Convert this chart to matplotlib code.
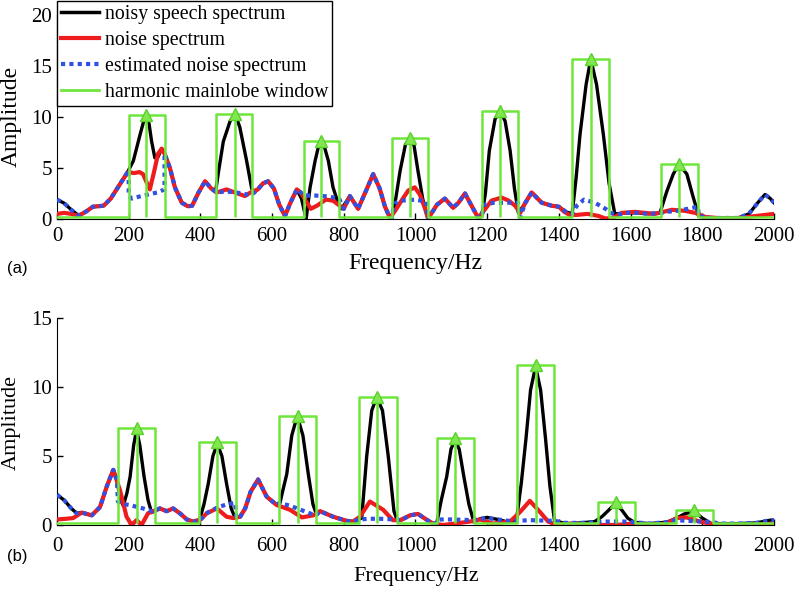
import matplotlib.pyplot as plt
from matplotlib.lines import Line2D

plt.rcParams['font.family'] = ['Liberation Serif', 'DejaVu Serif']

# ---- panel (a) ----
a_black_f = [0, 20, 40, 60, 80, 100, 130, 150, 170, 190, 200, 213, 232, 245, 250, 257, 264, 273, 282, 292,
             300, 315, 329, 348, 365, 377, 395, 413, 430, 443, 450, 464, 483, 497, 510, 529, 543, 550,
             560, 575, 589, 605, 620, 636, 650, 669, 682, 695, 706, 720, 730, 737, 745, 757, 770, 784, 794,
             817, 840, 860, 882, 900, 915, 929, 934, 945, 957, 972, 985, 996, 1007, 1020, 1035,
             1060, 1082, 1105, 1120, 1138, 1158, 1175, 1185, 1195, 1206, 1222, 1236, 1250, 1264, 1276, 1287,
             1305, 1324, 1352, 1380, 1400, 1420, 1437, 1448, 1459, 1476, 1489, 1505, 1524, 1540, 1556,
             1590, 1620, 1650, 1682, 1701, 1719, 1735, 1757, 1775, 1790, 1820, 1860, 1900, 1930, 1955,
             1975, 1990, 2000]
a_black_a = [1.9, 1.55, 0.9, 0.35, 0.7, 1.2, 1.3, 2.0, 3.1, 4.2, 4.8, 5.7, 8.3, 10.0, 10.2, 9.3, 7.6, 6.0, 6.1, 6.9,
             6.4, 5.0, 3.1, 1.6, 1.25, 1.3, 2.6, 3.7, 3.0, 2.8, 4.5, 7.6, 9.6, 10.3, 9.0, 5.7, 3.0, 2.6,
             2.9, 3.5, 3.7, 3.0, 1.4, 0.3, 1.5, 2.9, 2.0, 0.0, 3.1, 5.7, 7.2, 7.6, 7.2, 5.7, 3.1, 1.6, 1.0,
             2.25, 1.0, 2.6, 4.4, 3.0, 1.2, 0.1, 0.1, 2.0, 4.7, 7.3, 7.9, 7.2, 4.7, 2.0, 0.0,
             1.4, 2.0, 1.1, 1.6, 2.5, 1.2, 0.1, 0.3, 2.5, 6.7, 9.8, 10.6, 9.6, 6.7, 3.0, 0.6,
             1.5, 2.6, 1.6, 1.3, 1.2, 0.7, 0.5, 4.0, 8.3, 13.2, 15.7, 13.2, 8.3, 3.5, 0.5,
             0.6, 0.6, 0.5, 0.6, 2.7, 4.4, 5.4, 4.4, 2.1, 0.3, 0.1, 0.1, 0.1, 0.5, 1.6,
             2.4, 2.0, 1.6]

a_red_f = [0, 20, 40, 60, 80, 100, 130, 150, 170, 190, 200, 215, 230, 240, 250, 259, 270, 282, 292,
           300, 315, 329, 348, 365, 377, 395, 413, 430, 445, 473, 496, 524, 540, 560, 575, 589, 605, 620,
           636, 650, 669, 680, 692, 708, 725, 750, 770, 785, 800, 817, 840, 860, 882, 900, 915, 929,
           945, 961, 980, 998, 1012, 1026, 1035, 1060, 1082, 1105, 1120, 1138, 1158, 1175, 1195, 1212,
           1240, 1260, 1278, 1292, 1305, 1324, 1352, 1380, 1400, 1415, 1430, 1450, 1480, 1510, 1530,
           1550, 1576, 1612, 1668, 1715, 1752, 1780, 1808, 1872, 1927, 2000]
a_red_a = [0.5, 0.6, 0.5, 0.3, 0.7, 1.2, 1.3, 2.0, 3.1, 4.2, 4.6, 4.5, 4.6, 4.4, 3.6, 2.9, 4.5, 6.4, 6.9,
           6.4, 5.0, 3.1, 1.6, 1.25, 1.3, 2.6, 3.7, 3.0, 2.6, 2.9, 2.6, 2.25, 2.6, 2.9, 3.5, 3.7, 3.0, 1.4,
           0.3, 1.5, 2.9, 2.6, 1.9, 1.0, 1.3, 1.9, 1.8, 1.4, 1.0, 2.25, 1.0, 2.6, 4.4, 3.0, 1.2, 0.1,
           0.9, 1.8, 2.8, 3.1, 2.4, 1.1, 0.05, 1.4, 2.0, 1.1, 1.6, 2.5, 1.2, 0.1, 1.0, 1.8,
           2.1, 1.8, 1.3, 0.6, 1.5, 2.6, 1.6, 1.3, 1.2, 0.7, 0.4, 0.4, 0.5, 0.3, 0.05,
           0.1, 0.6, 0.7, 0.5, 0.9, 0.8, 0.6, 0.2, 0.0, 0.2, 0.5]

a_est_f = [0, 20, 40, 60, 80, 100, 130, 150, 170, 190, 200, 200, 208, 230, 254, 280, 300, 300, 315, 329,
           348, 365, 377, 395, 413, 430, 445, 470, 500, 530, 544, 560, 575, 589, 605, 620, 636, 650,
           669, 683, 689, 720, 760, 787, 800, 817, 840, 860, 882, 900, 915, 929, 934, 940, 960, 1000,
           1030, 1035, 1060, 1082, 1105, 1120, 1138, 1158, 1175, 1185, 1192, 1220, 1260, 1286, 1292,
           1305, 1324, 1352, 1380, 1400, 1420, 1437, 1450, 1470, 1500, 1530, 1545, 1560, 1590, 1620,
           1650, 1685, 1700, 1730, 1760, 1788, 1790, 1820, 1860, 1900, 1930, 1955, 1975, 1990, 2000]
a_est_a = [1.9, 1.55, 0.9, 0.35, 0.7, 1.2, 1.3, 2.0, 3.1, 4.2, 4.8, 2.3, 2.0, 2.2, 2.4, 2.6, 2.9, 6.4, 5.0, 3.1,
           1.6, 1.25, 1.3, 2.6, 3.7, 3.0, 2.6, 2.7, 2.6, 2.4, 2.4, 2.9, 3.5, 3.7, 3.0, 1.4, 0.3, 1.5,
           2.9, 2.5, 2.3, 2.3, 2.2, 2.0, 1.0, 2.25, 1.0, 2.6, 4.4, 3.0, 1.2, 0.1, 0.1, 1.5, 1.8, 1.9,
           1.7, 0.0, 1.4, 2.0, 1.1, 1.6, 2.5, 1.2, 0.1, 0.3, 1.4, 1.6, 1.6, 1.6, 0.1,
           1.5, 2.6, 1.6, 1.3, 1.2, 0.7, 0.5, 1.3, 1.9, 1.6, 1.0, 0.6, 0.4, 0.6, 0.6,
           0.5, 0.6, 0.7, 0.8, 1.0, 1.2, 0.3, 0.1, 0.1, 0.1, 0.5, 1.6, 2.4, 2.0, 1.6]

a_win_left = [200, 443, 689, 934, 1185, 1437, 1685]
a_win_right = [300, 544, 787, 1035, 1286, 1540, 1788]
a_win_center = [248, 497, 737, 985, 1236, 1489, 1735]
a_win_height = [10.2, 10.3, 7.6, 7.9, 10.6, 15.7, 5.4]

# ---- panel (b) ----
b_black_f = [0, 20, 40, 55, 69, 97, 120, 139, 157, 167, 176, 185, 195, 204, 214, 222, 231, 243, 254, 264, 278,
             287, 306, 324, 345, 362, 380, 397, 410, 422, 435, 447, 460, 473, 486, 497, 511, 525, 540, 561,
             585, 613, 622, 630, 641, 655, 670, 686, 701, 714, 722, 734, 770, 808, 826, 850, 864, 878,
             892, 908, 924, 940, 948, 960, 985, 1007, 1030, 1049, 1059, 1072, 1087, 1099, 1110, 1122,
             1135, 1149, 1163, 1180, 1200, 1230, 1260, 1282, 1295, 1308, 1321, 1335, 1349, 1363, 1375,
             1388, 1420, 1460, 1500, 1520, 1540, 1557, 1575, 1592, 1610, 1650, 1700, 1725, 1750, 1777,
             1800, 1825, 1850, 1900, 1950, 1990, 2000]
b_black_a = [2.2, 1.8, 1.2, 0.85, 0.9, 0.7, 1.3, 2.8, 4.0, 3.3, 1.9, 1.4, 2.3, 3.5, 5.8, 6.9, 5.8, 3.5, 1.8, 0.9, 1.1,
             1.2, 1.0, 1.2, 0.8, 0.4, 0.25, 0.3, 1.5, 3.0, 5.0, 5.9, 5.0, 3.0, 1.2, 0.5, 0.6, 1.2, 2.4, 3.3,
             2.05, 1.45, 1.6, 2.5, 3.7, 6.5, 7.9, 6.5, 3.7, 1.5, 0.9, 1.0, 0.6, 0.3, 0.25, 0.5, 5.0, 8.3,
             9.3, 8.3, 5.0, 1.0, 0.4, 0.35, 0.7, 0.8, 0.4, 0.1, 0.1, 1.8, 3.5, 5.5, 6.2, 5.5,
             3.5, 1.5, 0.2, 0.45, 0.55, 0.4, 0.2, 0.4, 3.0, 6.2, 9.8, 11.5, 9.8, 6.2, 2.8,
             0.3, 0.1, 0.15, 0.25, 0.6, 1.1, 1.55, 1.1, 0.5, 0.2, 0.1, 0.2, 0.45, 0.8, 1.0,
             0.5, 0.1, 0.1, 0.1, 0.15, 0.35, 0.35]

b_red_f = [0, 25, 45, 69, 97, 120, 139, 157, 176, 194, 208, 222, 236, 254, 278, 287, 306, 324, 345, 362, 380,
           400, 418, 446, 473, 492, 511, 525, 540, 561, 585, 613, 650, 683, 715, 734, 770, 808, 826, 845,
           873, 910, 937, 957, 985, 1007, 1030, 1049, 1077, 1110, 1152, 1180, 1216, 1264, 1292, 1319,
           1347, 1370, 1393, 1440, 1487, 1561, 1607, 1654, 1700, 1728, 1756, 1793, 1840, 1886, 1933,
           1997, 2000]
b_red_a = [0.4, 0.45, 0.5, 0.9, 0.7, 1.3, 2.8, 4.0, 2.5, 0.6, 0.0, 0.35, 0.0, 0.85, 1.1, 1.2, 1.0, 1.2, 0.8, 0.4, 0.25,
           0.4, 0.85, 1.2, 0.6, 0.5, 0.6, 1.2, 2.4, 3.3, 2.05, 1.45, 1.1, 0.55, 0.7, 1.0, 0.6, 0.3, 0.25, 0.6,
           1.7, 1.1, 0.35, 0.35, 0.7, 0.8, 0.4, 0.1, 0.0, 0.1, 0.25, 0.4, 0.1, 0.25, 0.95, 1.75,
           0.95, 0.25, 0.0, 0.1, 0.0, 0.0, 0.1, 0.0, 0.1, 0.5, 0.55, 0.25, 0.0, 0.0, 0.0,
           0.1, 0.1]

b_est_f = [0, 20, 40, 55, 69, 97, 120, 139, 157, 167, 170, 190, 210, 240, 265, 278, 287, 306, 324, 345, 362,
           380, 397, 420, 450, 475, 497, 500, 511, 525, 540, 561, 585, 613, 620, 650, 680, 710, 723, 734,
           770, 808, 826, 845, 870, 900, 945, 960, 985, 1007, 1030, 1049, 1059, 1065, 1100, 1160, 1180,
           1200, 1230, 1260, 1284, 1320, 1386, 1420, 1460, 1500, 1530, 1580, 1612, 1650, 1700, 1725,
           1760, 1800, 1830, 1850, 1900, 1950, 1990, 2000]
b_est_a = [2.2, 1.8, 1.2, 0.85, 0.9, 0.7, 1.3, 2.8, 4.0, 3.3, 1.7, 1.5, 1.4, 1.2, 1.0, 1.1, 1.2, 1.0, 1.2, 0.8, 0.4,
           0.25, 0.3, 0.9, 1.3, 1.5, 1.6, 0.5, 0.6, 1.2, 2.4, 3.3, 2.05, 1.45, 1.6, 1.4, 1.1, 0.8, 0.7, 1.0,
           0.6, 0.3, 0.25, 0.4, 0.45, 0.45, 0.4, 0.35, 0.7, 0.8, 0.4, 0.1, 0.15, 0.4, 0.4, 0.35, 0.45,
           0.5, 0.4, 0.3, 0.3, 0.35, 0.3, 0.15, 0.15, 0.2, 0.25, 0.25, 0.2, 0.1, 0.2, 0.35,
           0.3, 0.25, 0.2, 0.1, 0.1, 0.15, 0.35, 0.35]

b_win_left = [170, 397, 620, 843, 1059, 1284, 1510, 1727]
b_win_right = [274, 500, 723, 949, 1164, 1386, 1612, 1830]
b_win_center = [223, 447, 671, 893, 1110, 1337, 1560, 1777]
b_win_height = [7.0, 6.0, 7.9, 9.3, 6.3, 11.6, 1.7, 1.1]

win_floor = 0.15

labels = ['noisy speech spectrum', 'noise spectrum', 'estimated noise spectrum', 'harmonic mainlobe window']
c_black = 'black'
c_red = '#ee1c1c'
c_blue = '#3050e6'
c_green = '#6ee63c'


def draw_panel(ax, bf, ba, rf, ra, ef, ea, wl, wr, wc, wh, ymax):
    ax.plot(bf, ba, color=c_black, lw=2.4, zorder=2)
    ax.plot(rf, ra, color=c_red, lw=3, zorder=3)
    ax.plot(ef, ea, color=c_blue, lw=3, ls=(0, (1, 1)), zorder=4)
    wx, wy = [0], [win_floor]
    for l, r, h in zip(wl, wr, wh):
        wx += [l, l, r, r]
        wy += [win_floor, h, h, win_floor]
    wx.append(2000)
    wy.append(win_floor)
    ax.plot(wx, wy, color=c_green, lw=1.8, zorder=5)
    ax.vlines(wc, win_floor, wh, color=c_green, lw=1.8, zorder=5)
    ax.plot(wc, wh, ls='none', marker='^', ms=9, mfc='#82e650', mec='#5ad22a', mew=1, zorder=6)
    ax.set_xlim(0, 2000)
    ax.set_ylim(0, ymax)
    ax.set_xticks(range(0, 2001, 200))
    ax.set_yticks(range(0, ymax + 1, 5))
    ax.spines['top'].set_visible(False)
    ax.spines['right'].set_visible(False)
    ax.tick_params(direction='in', length=4, width=1, labelsize=15)


fig = plt.figure(figsize=(7.98, 5.89), dpi=100)
ax1 = fig.add_axes([0.0714, 0.6282, 0.8985, 0.3463])
ax2 = fig.add_axes([0.0714, 0.1087, 0.8985, 0.351])

draw_panel(ax1, a_black_f, a_black_a, a_red_f, a_red_a, a_est_f, a_est_a,
           a_win_left, a_win_right, a_win_center, a_win_height, 20)
draw_panel(ax2, b_black_f, b_black_a, b_red_f, b_red_a, b_est_f, b_est_a,
           b_win_left, b_win_right, b_win_center, b_win_height, 15)
ax1.tick_params(axis='x', pad=6)
ax2.tick_params(axis='x', pad=9)

handles = [Line2D([], [], color=c_black, lw=2.5),
           Line2D([], [], color=c_red, lw=3),
           Line2D([], [], color=c_blue, lw=3, ls=(0, (1, 1))),
           Line2D([], [], color=c_green, lw=2)]
leg = fig.legend(handles, labels, loc='upper left', bbox_to_anchor=(57 / 798, 1 - 1 / 589),
                 fontsize=14.3, frameon=True, fancybox=False, framealpha=1, edgecolor='black',
                 handlelength=1.9, handletextpad=0.3, borderpad=0.2, labelspacing=0.36,
                 borderaxespad=0)
leg.get_frame().set_linewidth(1)
leg.set_zorder(10)

fig.text(415 / 798, 1 - 264 / 589, 'Frequency/Hz', ha='center', va='center', fontsize=17)
fig.text(416 / 798, 1 - 576 / 589, 'Frequency/Hz', ha='center', va='center', fontsize=16)
fig.text(11 / 798, 1 - 116 / 589, 'Amplitude', ha='center', va='center', rotation=90, fontsize=17)
fig.text(11 / 798, 1 - 422 / 589, 'Amplitude', ha='center', va='center', rotation=90, fontsize=16)
fig.text(7 / 798, 1 - 268 / 589, '(a)', ha='left', va='center', fontsize=12, family='Liberation Sans')
fig.text(7 / 798, 1 - 557 / 589, '(b)', ha='left', va='center', fontsize=12, family='Liberation Sans')

fig.savefig('out.png', dpi=100)
